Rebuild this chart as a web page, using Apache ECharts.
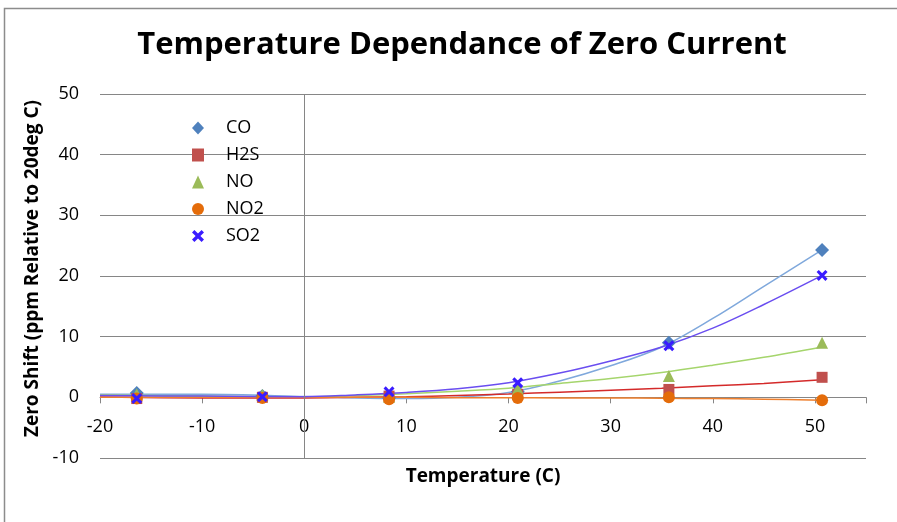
<!DOCTYPE html>
<html>
<head>
<meta charset="utf-8">
<script src="https://cdn.jsdelivr.net/npm/echarts@6/dist/echarts.min.js"></script>
<style>
html,body{margin:0;padding:0;background:#fff;overflow:hidden;}
#chart{width:897px;height:522px;}
</style>
</head>
<body>
<div id="chart"></div>
<script>
// ---- data ----
const seriesNames = ['CO', 'H2S', 'NO', 'NO2', 'SO2'];
const temps = [-16.4, -4.1, 8.3, 20.9, 35.7, 50.7];
const coVals  = [0.7, 0.2, -0.1, 0.9, 9.0, 24.3];
const h2sVals = [-0.2, 0.0, 0.2, 0.5, 1.3, 3.3];
const noVals  = [0.5, 0.4, 0.1, 1.4, 3.5, 9.0];
const no2Vals = [-0.2, -0.1, -0.3, -0.1, 0.0, -0.5];
const so2Vals = [-0.2, 0.1, 0.9, 2.4, 8.5, 20.1];

// trendlines
const trendX = [-20, -10, 0, 5, 10, 15, 20, 25, 30, 35, 40, 45, 50.7];
const coTrend  = [0.5, 0.5, 0.15, -0.1, -0.2, 0.0, 0.8, 2.7, 5.2, 8.3, 13.0, 18.3, 24.3];
const h2sTrend = [0.05, -0.1, -0.1, 0.0, 0.1, 0.3, 0.55, 0.85, 1.15, 1.5, 1.9, 2.3, 2.9];
const noTrend  = [0.4, 0.2, 0.05, 0.3, 0.6, 1.0, 1.5, 2.3, 3.1, 4.1, 5.3, 6.6, 8.3];
const no2Trend = [0, 0, 0, 0, 0, -0.05, -0.05, -0.1, -0.1, -0.15, -0.2, -0.3, -0.5];
const so2Trend = [0.3, 0.2, 0.1, 0.4, 0.8, 1.4, 2.4, 4.0, 6.0, 8.3, 11.4, 15.3, 20.1];

const xTicks = [-20, -10, 0, 10, 20, 30, 40, 50];
const yTicks = [-10, 0, 10, 20, 30, 40, 50];

const pointVals = [coVals, h2sVals, noVals, no2Vals, so2Vals];
const trendVals = [coTrend, h2sTrend, noTrend, no2Trend, so2Trend];

const xPath = 'path://M0,2L2,0L5,3L8,0L10,2L7,5L10,8L8,10L5,7L2,10L0,8L3,5Z';
const markerStyles = [
  {symbol: 'diamond', size: 14, color: '#4f81bd'},
  {symbol: 'rect', size: 11, color: '#c0504d'},
  {symbol: 'triangle', size: 12, color: '#9bbb59'},
  {symbol: 'circle', size: 12, color: '#e46c0a'},
  {symbol: xPath, size: 11, color: '#3a1cff'}
];
const trendColors = ['#7fa8dc', '#d42a2a', '#a5d56c', '#ee7f2d', '#6a4ef0'];

const zip = (xs, ys) => xs.map((x, i) => [x, ys[i]]);
const FONT = 'Open Sans';

const series = [];
trendVals.forEach((vals, i) => {
  const s = {
    name: seriesNames[i] + ' trend',
    type: 'line',
    data: zip(trendX, vals),
    smooth: 0.35,
    showSymbol: false,
    symbol: 'none',
    silent: true,
    z: 2,
    lineStyle: {color: trendColors[i], width: 1.5}
  };
  if (i === 0) {
    s.markLine = {
      silent: true,
      symbol: 'none',
      label: {show: false},
      lineStyle: {color: '#868686', width: 1, type: 'solid'},
      data: [{xAxis: 0}]
    };
  }
  series.push(s);
});
pointVals.forEach((vals, i) => {
  const m = markerStyles[i];
  series.push({
    name: seriesNames[i],
    type: 'scatter',
    data: zip(temps, vals),
    symbol: m.symbol,
    symbolSize: m.size,
    z: 5,
    itemStyle: {color: m.color, opacity: 1}
  });
});

const chart = echarts.init(document.getElementById('chart'), null, {renderer: 'canvas'});
chart.setOption({
  backgroundColor: '#ffffff',
  animation: false,
  title: {
    text: 'Temperature Dependance of Zero Current',
    left: 457,
    textAlign: 'center',
    top: 25,
    textStyle: {fontFamily: FONT, fontWeight: 'bold', fontSize: 31, color: '#000'}
  },
  graphic: [{
    type: 'polyline',
    shape: {points: [[4.5, 522], [4.5, 8.5], [897, 8.5]]},
    style: {fill: 'none', stroke: '#8c8c8c', lineWidth: 1.5},
    silent: true
  }],
  legend: {
    data: seriesNames.map((n, i) => ({name: n, icon: markerStyles[i].symbol, itemStyle: {opacity: 1}})),
    orient: 'vertical',
    left: 192,
    top: 119,
    padding: 0,
    itemWidth: 12,
    itemHeight: 13,
    itemGap: 9,
    textStyle: {fontFamily: FONT, fontSize: 18, color: '#000', padding: [0, 0, 0, 17]}
  },
  grid: [
    {left: 100, right: 31, top: 94, bottom: 64, containLabel: false, outerBoundsMode: 'none'},
    {left: 100, right: 31, top: 94, height: 303, containLabel: false, outerBoundsMode: 'none'}
  ],
  xAxis: [{
    type: 'value',
    gridIndex: 0,
    min: -20,
    max: 55,
    interval: 10,
    name: 'Temperature (C)',
    nameLocation: 'middle',
    nameGap: 9,
    nameTextStyle: {fontFamily: FONT, fontWeight: 'bold', fontSize: 19, color: '#000'},
    axisLine: {show: true, onZero: true, lineStyle: {color: '#868686', width: 1}},
    axisTick: {show: true, length: 6, lineStyle: {color: '#868686'}},
    axisLabel: {show: false},
    splitLine: {show: false}
  }, {
    type: 'value',
    gridIndex: 1,
    min: -20,
    max: 55,
    interval: 10,
    axisLine: {show: false},
    axisTick: {show: false},
    axisLabel: {
      margin: 21,
      fontFamily: FONT, fontSize: 18, color: '#000',
      formatter: v => (xTicks.includes(v) ? String(v) : '')
    },
    splitLine: {show: false}
  }],
  yAxis: [{
    type: 'value',
    gridIndex: 0,
    min: -10,
    max: 50,
    interval: 10,
    name: 'Zero Shift (ppm Relative to 20deg C)',
    nameLocation: 'middle',
    nameGap: 52,
    nameRotate: 90,
    nameTextStyle: {fontFamily: FONT, fontWeight: 'bold', fontSize: 19, color: '#000', padding: [0, 0, 0, 15]},
    axisLine: {show: false, onZero: false},
    axisTick: {show: false},
    axisLabel: {
      margin: 21,
      fontFamily: FONT, fontSize: 18, color: '#000',
      formatter: v => (yTicks.includes(v) ? String(v) : '')
    },
    splitLine: {show: true, lineStyle: {color: '#868686', width: 1}}
  }, {
    type: 'value',
    gridIndex: 1,
    min: 0,
    max: 1,
    show: false
  }],
  series: series
});
</script>
</body>
</html>
